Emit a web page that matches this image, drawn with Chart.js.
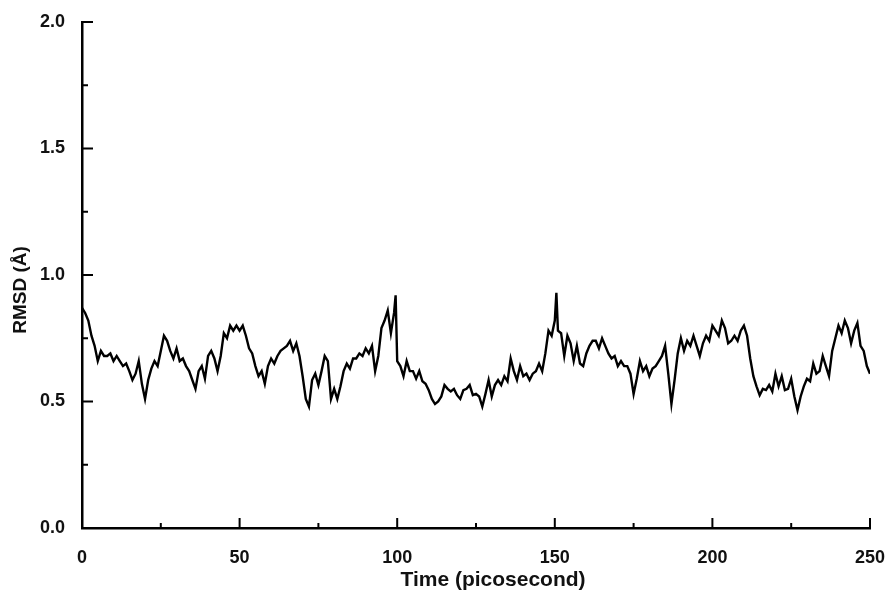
<!DOCTYPE html>
<html>
<head>
<meta charset="utf-8">
<script src="https://cdn.jsdelivr.net/npm/chart.js@4.4.1/dist/chart.umd.min.js"></script>
<style>
  html, body { margin: 0; padding: 0; background: #fff; }
  #wrap { width: 888px; height: 599px; }
</style>
</head>
<body>
<div id="wrap"><canvas id="rmsd_chart" width="888" height="599"></canvas></div>
<script>
// RMSD (Angstrom) sampled every 1 ps, t = 0 .. 250
const timeStep = 1;
const rmsd = [
  0.87, 0.85, 0.82, 0.76, 0.72, 0.66, 0.70, 0.68, 0.68, 0.69,
  0.66, 0.68, 0.66, 0.64, 0.65, 0.62, 0.585, 0.61, 0.66, 0.57,
  0.51, 0.585, 0.63, 0.66, 0.64, 0.70, 0.76, 0.74, 0.70, 0.67,
  0.71, 0.66, 0.67, 0.64, 0.62, 0.585, 0.55, 0.62, 0.64, 0.59,
  0.68, 0.70, 0.67, 0.62, 0.68, 0.77, 0.75, 0.80, 0.78, 0.80,
  0.78, 0.80, 0.76, 0.71, 0.69, 0.64, 0.60, 0.62, 0.57, 0.64,
  0.67, 0.65, 0.68, 0.70, 0.71, 0.72, 0.74, 0.70, 0.73, 0.68,
  0.60, 0.51, 0.48, 0.585, 0.61, 0.565, 0.62, 0.68, 0.66, 0.51,
  0.55, 0.51, 0.56, 0.62, 0.65, 0.63, 0.67, 0.67, 0.69, 0.68,
  0.71, 0.69, 0.72, 0.62, 0.68, 0.79, 0.82, 0.86, 0.77, 0.85,
  0.66, 0.64, 0.60, 0.66, 0.62, 0.62, 0.59, 0.62, 0.58, 0.57,
  0.545, 0.51, 0.49, 0.50, 0.52, 0.565, 0.55, 0.54, 0.55, 0.525,
  0.51, 0.545, 0.55, 0.565, 0.525, 0.53, 0.52, 0.48, 0.53, 0.585,
  0.52, 0.565, 0.585, 0.565, 0.60, 0.58, 0.67, 0.62, 0.585, 0.64,
  0.60, 0.61, 0.585, 0.61, 0.62, 0.65, 0.62, 0.69, 0.78, 0.76,
  0.82, 0.78, 0.77, 0.68, 0.76, 0.73, 0.66, 0.72, 0.65, 0.64,
  0.69, 0.72, 0.74, 0.74, 0.71, 0.75, 0.72, 0.69, 0.67, 0.68,
  0.64, 0.66, 0.64, 0.64, 0.61, 0.53, 0.59, 0.66, 0.62, 0.64,
  0.60, 0.63, 0.64, 0.66, 0.68, 0.72, 0.61, 0.49, 0.585, 0.69,
  0.75, 0.70, 0.74, 0.72, 0.76, 0.72, 0.68, 0.73, 0.76, 0.74,
  0.80, 0.78, 0.76, 0.82, 0.79, 0.73, 0.74, 0.76, 0.74, 0.78,
  0.80, 0.76, 0.67, 0.60, 0.56, 0.525, 0.55, 0.545, 0.565, 0.54,
  0.61, 0.56, 0.60, 0.545, 0.55, 0.59, 0.52, 0.466, 0.52, 0.56,
  0.59, 0.58, 0.65, 0.61, 0.62, 0.68, 0.64, 0.60, 0.70, 0.75,
  0.80, 0.77, 0.82, 0.79, 0.73, 0.78, 0.81, 0.72, 0.70, 0.64,
  0.61
];
// sharp spikes between samples
const peakTimes = [99.5, 150.5];
const peakValues = [0.92, 0.93];

const xTicks = [0, 50, 100, 150, 200, 250];
const xMinorTicks = [25, 75, 125, 175, 225];
const yTicks = [0, 0.5, 1.0, 1.5, 2.0];
const yMinorTicks = [0.25, 0.75, 1.25, 1.75];

const points = rmsd.map((v, i) => ({ x: i * timeStep, y: v }));
peakTimes.forEach((t, i) => points.push({ x: t, y: peakValues[i] }));
points.sort((a, b) => a.x - b.x);

const fontFamily = '"Liberation Sans", Arial, sans-serif';

const axisMarks = {
  id: 'axisMarks',
  afterDraw(chart) {
    const { ctx, chartArea } = chart;
    const xs = chart.scales.x;
    const ys = chart.scales.y;
    ctx.save();
    ctx.strokeStyle = '#000';
    ctx.lineWidth = 2;
    ctx.beginPath();
    xTicks.forEach(t => {
      const px = xs.getPixelForValue(t);
      ctx.moveTo(px, chartArea.bottom);
      ctx.lineTo(px, chartArea.bottom - 10);
    });
    xMinorTicks.forEach(t => {
      const px = xs.getPixelForValue(t);
      ctx.moveTo(px, chartArea.bottom);
      ctx.lineTo(px, chartArea.bottom - 5);
    });
    yTicks.forEach(t => {
      const py = ys.getPixelForValue(t);
      ctx.moveTo(chartArea.left, py);
      ctx.lineTo(chartArea.left + 11, py);
    });
    yMinorTicks.forEach(t => {
      const py = ys.getPixelForValue(t);
      ctx.moveTo(chartArea.left, py);
      ctx.lineTo(chartArea.left + 6, py);
    });
    ctx.stroke();

    // axis titles
    ctx.fillStyle = '#111';
    ctx.textAlign = 'center';
    ctx.textBaseline = 'middle';
    ctx.font = 'bold 21px ' + fontFamily;
    ctx.fillText('Time (picosecond)', 493, 580);
    ctx.translate(21, 290);
    ctx.rotate(-Math.PI / 2);
    ctx.font = 'bold 19px ' + fontFamily;
    ctx.fillText('RMSD (Å)', 0, 0);
    ctx.restore();
  }
};

const config = {
  type: 'line',
  data: {
    datasets: [{
      label: 'RMSD',
      data: points,
      borderColor: '#000',
      borderWidth: 2.4,
      pointRadius: 0,
      tension: 0,
      fill: false
    }]
  },
  options: {
    responsive: false,
    animation: false,
    layout: {
      padding: { left: 0, right: 18, top: 22, bottom: 0 }
    },
    plugins: {
      legend: { display: false },
      tooltip: { enabled: false }
    },
    scales: {
      x: {
        type: 'linear',
        min: 0,
        max: 250,
        afterFit: scale => {
          scale.height = 71;
          scale.paddingLeft = 0;
          scale.paddingRight = 0;
        },
        afterBuildTicks: scale => { scale.ticks = xTicks.map(v => ({ value: v })); },
        grid: { display: false },
        border: { display: true, color: '#000', width: 2.5 },
        ticks: {
          color: '#111',
          padding: 11,
          maxRotation: 0,
          font: { family: fontFamily, size: 18, weight: 'bold' }
        }
      },
      y: {
        min: 0,
        max: 2,
        afterFit: scale => {
          scale.width = 82;
          scale.paddingTop = 0;
          scale.paddingBottom = 0;
        },
        afterBuildTicks: scale => { scale.ticks = yTicks.map(v => ({ value: v })); },
        grid: { display: false },
        border: { display: true, color: '#000', width: 2.5 },
        ticks: {
          color: '#111',
          padding: 9,
          font: { family: fontFamily, size: 18, weight: 'bold' },
          callback: v => v.toFixed(1)
        }
      }
    }
  },
  plugins: [axisMarks]
};

const rmsd_chart = new Chart(document.getElementById('rmsd_chart'), config);
</script>
</body>
</html>
